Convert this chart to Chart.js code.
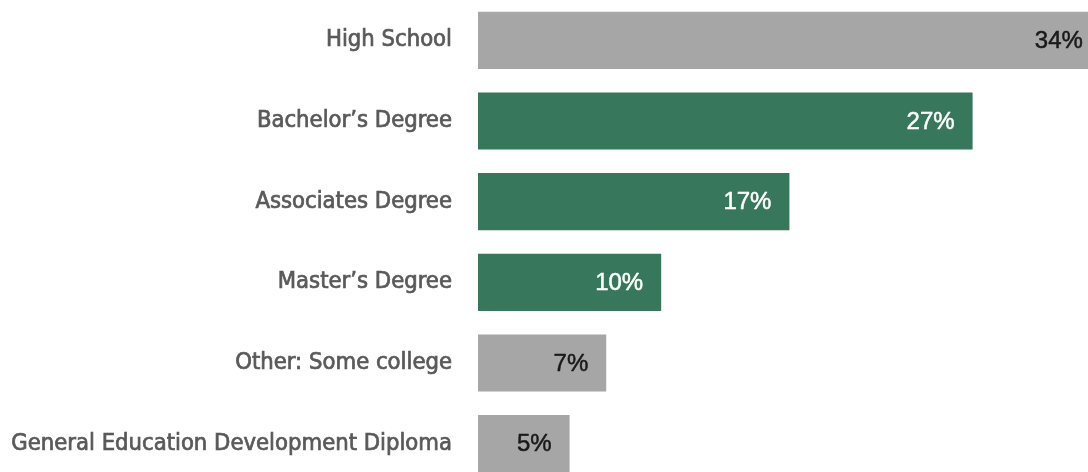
<!DOCTYPE html>
<html>
<head>
<meta charset="utf-8">
<script src="https://cdn.jsdelivr.net/npm/chart.js@4/dist/chart.umd.min.js"></script>
<style>
  html, body { margin: 0; padding: 0; background: #ffffff; overflow: hidden; }
  canvas { display: block; }
</style>
</head>
<body>
<canvas id="chart" width="1088" height="484"></canvas>
<script>
// Highest level of education completed
const categories = [
  'High School',
  'Bachelor\u2019s Degree',
  'Associates Degree',
  'Master\u2019s Degree',
  'Other: Some college',
  'General Education Development Diploma'
];
const shares = [34, 27, 17, 10, 7, 5];
const valueLabels = ['34%', '27%', '17%', '10%', '7%', '5%'];
const degreeGroup = [false, true, true, true, false, false];

const GREY = '#a6a6a6';
const GREEN = '#37775c';

// Writes the percentage inside the end of each bar
const barValueLabels = {
  id: 'barValueLabels',
  afterDatasetsDraw(chart) {
    const { ctx } = chart;
    const meta = chart.getDatasetMeta(0);
    ctx.save();
    ctx.textAlign = 'right';
    ctx.textBaseline = 'middle';
    ctx.lineWidth = 0.5;
    ctx.lineJoin = 'round';
    meta.data.forEach((bar, i) => {
      const colour = degreeGroup[i] ? '#ffffff' : '#1a1a1a';
      ctx.fillStyle = colour;
      ctx.strokeStyle = colour;
      ctx.font = '24px "Liberation Sans", Arial, sans-serif';
      const x = bar.x - 18;
      const y = bar.y + 1;
      ctx.fillText(valueLabels[i], x, y);
      ctx.strokeText(valueLabels[i], x, y);
    });
    ctx.restore();
  }
};

new Chart(document.getElementById('chart'), {
  type: 'bar',
  data: {
    labels: categories,
    datasets: [{
      data: shares,
      backgroundColor: degreeGroup.map(g => g ? GREEN : GREY),
      borderWidth: 0,
      barPercentage: 0.708,
      categoryPercentage: 1.0
    }]
  },
  options: {
    indexAxis: 'y',
    responsive: false,
    animation: false,
    layout: { padding: 0 },
    plugins: {
      legend: { display: false },
      tooltip: { enabled: false }
    },
    scales: {
      x: {
        min: 0,
        max: 33.3,
        display: false
      },
      y: {
        grid: { display: false, drawTicks: false },
        border: { display: false },
        ticks: {
          color: '#595959',
          textStrokeColor: '#595959',
          textStrokeWidth: 0.7,
          padding: 26,
          font: { family: '"Liberation Sans Narrow", "DejaVu Sans Condensed", sans-serif', size: 23.6 }
        },
        afterFit(scale) {
          scale.width = 478;
          scale.paddingTop = 0;
          scale.paddingBottom = 0;
        }
      }
    }
  },
  plugins: [barValueLabels]
});
</script>
</body>
</html>
